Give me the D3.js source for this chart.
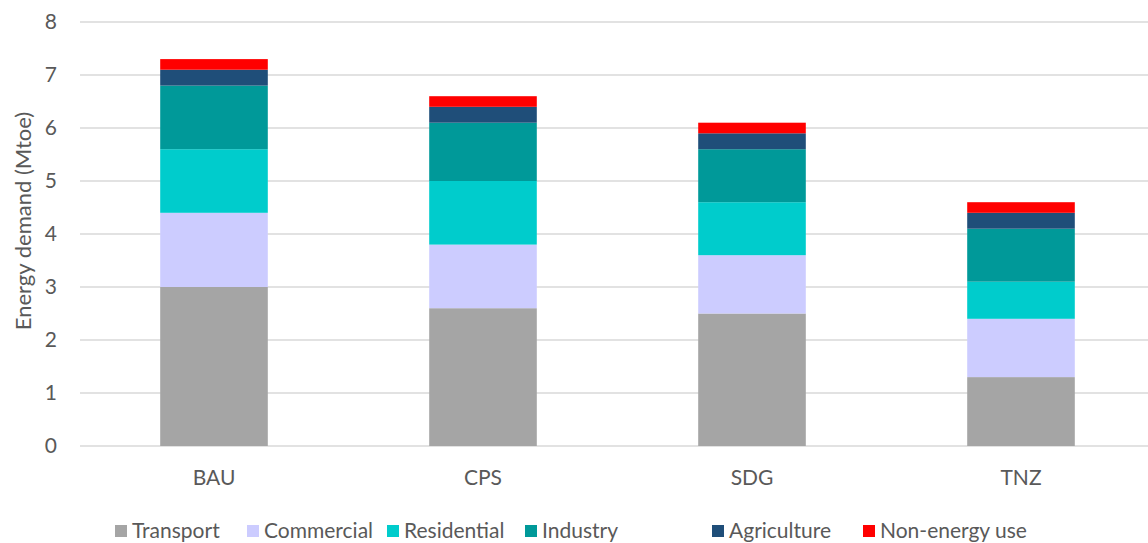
<!DOCTYPE html>
<html><head><meta charset="utf-8">
<script src="https://cdn.jsdelivr.net/npm/d3@7"></script>
<style>body{margin:0;background:#fff}svg{display:block;font-family:Lato,"Open Sans",sans-serif}</style>
</head><body>
<svg id="c" width="1148" height="543"></svg>
<script>
const categories = ["BAU","CPS","SDG","TNZ"];
const seriesNames = ["Transport","Commercial","Residential","Industry","Agriculture","Non-energy use"];
const transport   = [3.0, 2.6, 2.5, 1.3];
const commercial  = [1.4, 1.2, 1.1, 1.1];
const residential = [1.2, 1.2, 1.0, 0.7];
const industry    = [1.2, 1.1, 1.0, 1.0];
const agriculture = [0.3, 0.3, 0.3, 0.3];
const nonEnergy   = [0.2, 0.2, 0.2, 0.2];
const yTicks = [0,1,2,3,4,5,6,7,8];
const colors = ["#a5a5a5","#ccccff","#00cccc","#009999","#1f4e79","#ff0000"];

const seriesVals = [transport, commercial, residential, industry, agriculture, nonEnergy];
const rows = categories.map((c,i)=>{const r={cat:c}; seriesNames.forEach((s,j)=>r[s]=seriesVals[j][i]); return r;});
const stack = d3.stack().keys(seriesNames)(rows);

const svg = d3.select("#c");
const x = d3.scaleBand().domain(categories).range([79.5,1155.5]).paddingInner(0.6).paddingOuter(0.3);
const y = d3.scaleLinear().domain([0,8]).range([446,22]);
const textCol = "#595959";

svg.append("g").selectAll("line").data(yTicks).join("line")
  .attr("x1",80).attr("x2",1148).attr("y1",d=>y(d)).attr("y2",d=>y(d))
  .attr("stroke","#d9d9d9").attr("stroke-width",1.3);

svg.append("g").selectAll("text").data(yTicks).join("text")
  .attr("x",57).attr("y",d=>y(d)).attr("dy","0.35em").attr("text-anchor","end")
  .attr("font-size",21).attr("fill",textCol).text(d=>d);

svg.append("g").selectAll("g").data(stack).join("g")
  .attr("fill",(d,i)=>colors[i])
  .selectAll("rect").data(d=>d).join("rect")
  .attr("x",d=>x(d.data.cat)).attr("width",x.bandwidth())
  .attr("y",d=>y(d[1])).attr("height",d=>y(d[0])-y(d[1]));

svg.append("g").selectAll("text").data(categories).join("text")
  .attr("x",d=>x(d)+x.bandwidth()/2).attr("y",485).attr("text-anchor","middle")
  .attr("font-size",21).attr("fill",textCol).text(d=>d);

svg.append("text").attr("transform","translate(31,221) rotate(-90)")
  .attr("text-anchor","middle").attr("font-size",22).attr("fill",textCol)
  .text("Energy demand (Mtoe)");

const legX = [115,247,387,525,712,863];
const lg = svg.append("g").selectAll("g").data(seriesNames).join("g")
  .attr("transform",(d,i)=>`translate(${legX[i]},0)`);
lg.append("rect").attr("x",0).attr("y",525).attr("width",12).attr("height",12).attr("fill",(d,i)=>colors[i]);
lg.append("text").attr("x",17).attr("y",538).attr("font-size",21).attr("fill",textCol).text(d=>d);
</script>
</body></html>
